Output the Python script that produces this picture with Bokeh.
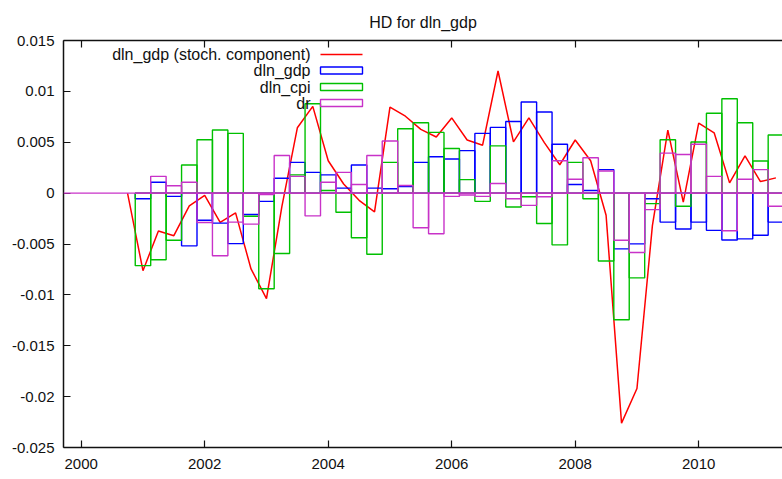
from bokeh.plotting import figure
from bokeh.models import Range1d, FixedTicker, CustomJSTickFormatter, LinearAxis, Span
from bokeh.embed import file_html
from bokeh.resources import INLINE
from bokeh.core.properties import value

# ---------------- data ----------------
title = "HD for dln_gdp"
series_names = ["dln_gdp (stoch. component)", "dln_gdp", "dln_cpi", "dr"]

quarters = [2001.0, 2001.25, 2001.5, 2001.75, 2002.0, 2002.25, 2002.5, 2002.75,
            2003.0, 2003.25, 2003.5, 2003.75, 2004.0, 2004.25, 2004.5, 2004.75,
            2005.0, 2005.25, 2005.5, 2005.75, 2006.0, 2006.25, 2006.5, 2006.75,
            2007.0, 2007.25, 2007.5, 2007.75, 2008.0, 2008.25, 2008.5, 2008.75,
            2009.0, 2009.25, 2009.5, 2009.75, 2010.0, 2010.25, 2010.5, 2010.75,
            2011.0, 2011.25]

red_dates = [2000.75] + quarters
red_total = [0.0,
             -0.00762, -0.00373, -0.00418, -0.00126, -0.00022, -0.00288, -0.00194, -0.00745,
             -0.01037, -0.00130, 0.00642, 0.00853, 0.00318, 0.00090, -0.00071, -0.00185,
             0.00846, 0.00756, 0.00626, 0.00552, 0.00739, 0.00522, 0.00471, 0.01200,
             0.00503, 0.00739, 0.00496, 0.00279, 0.00522, 0.00318, -0.00217, -0.02260,
             -0.01920, -0.00320, 0.00620, -0.00088, 0.00688, 0.00593, 0.00101, 0.00367,
             0.00114, 0.00150]

blue_gdp = [-0.00055, 0.00107, -0.00032, -0.00518, -0.00266, -0.00295, -0.00496, -0.00210,
            -0.00081, 0.00146, 0.00302, 0.00204, 0.00179, 0.00049, 0.00276, 0.00049,
            0.00043, 0.00065, 0.00302, 0.00357, 0.00335, 0.00418, 0.00587, 0.00646,
            0.00704, 0.00895, 0.00798, 0.00480, 0.00085, 0.00026, 0.00231, -0.00548,
            -0.00499, -0.00055, -0.00285, -0.00353, -0.00285, -0.00366, -0.00460, -0.00450,
            -0.00414, -0.00285]

green_cpi = [-0.00713, -0.00655, -0.00463, 0.00276, 0.00525, 0.00620, 0.00587, -0.00227,
             -0.00940, -0.00593, 0.00179, 0.00879, 0.00026, -0.00188, -0.00438, -0.00600,
             0.00302, 0.00632, 0.00691, 0.00597, 0.00438, 0.00133, -0.00081, 0.00464,
             -0.00136, -0.00035, -0.00298, -0.00509, 0.00302, -0.00055, -0.00667, -0.01245,
             -0.00833, -0.00103, 0.00525, -0.00129, 0.00503, 0.00785, 0.00928, 0.00691,
             0.00315, 0.00571]

magenta_dr = [0.0, 0.00165, 0.00072, 0.00107, -0.00288, -0.00616, -0.00285, -0.00305,
              -0.00013, 0.00370, 0.00165, -0.00224, 0.00107, 0.00204, 0.00085, 0.00370,
              0.00513, 0.00075, -0.00340, -0.00399, -0.00032, -0.00019, -0.00032, 0.00094,
              -0.00055, -0.00120, -0.00035, 0.00318, 0.00136, 0.00347, 0.00218, -0.00463,
              -0.00584, -0.00162, 0.00393, 0.00379, 0.00480, 0.00165, -0.00370, 0.00136,
              0.00231, -0.00129]

x_ticks = [2000, 2002, 2004, 2006, 2008, 2010]
y_ticks = [-0.025, -0.02, -0.015, -0.01, -0.005, 0.0, 0.005, 0.01, 0.015]

# ---------------- style / layout ----------------
W, H = 782, 479
FL, FT, FB, FR = 63, 40, 32, 0
x0, x1 = 1999.713, 2011.357
y0, y1 = -0.025, 0.015
bar_w = 0.25

RED = "#ff0000"
BLUE = "#0000ff"
GREEN = "#00c000"
MAGENTA = "#c832c8"
FONT = "Liberation Sans"
FS = "15px"
LEG_FS = "16px"


def px2x(px):
    return x0 + (px - FL) / (W - FL - FR) * (x1 - x0)


def py2y(py):
    return y1 - (py - FT) / (H - FT - FB) * (y1 - y0)


p = figure(width=W, height=H, output_backend="svg", toolbar_location=None,
           x_range=Range1d(x0, x1), y_range=Range1d(y0, y1),
           min_border_left=FL, min_border_top=FT, min_border_bottom=FB,
           min_border_right=FR, title=title)
p.outline_line_color = None
p.xgrid.visible = False
p.ygrid.visible = False
p.background_fill_color = "white"
p.border_fill_color = "white"

p.title.align = "center"
p.title.text_font = FONT
p.title.text_font_size = "16px"
p.title.text_font_style = "normal"
p.title.text_color = "#111111"
p.title.standoff = 20

bottom_axis = p.below[0]
left_axis = p.left[0]

bottom_axis.ticker = FixedTicker(ticks=x_ticks)
bottom_axis.formatter = CustomJSTickFormatter(code="return tick.toFixed(0);")
left_axis.ticker = FixedTicker(ticks=y_ticks)
left_axis.formatter = CustomJSTickFormatter(code="return String(Math.round(tick*1000)/1000);")

top_axis = LinearAxis(ticker=FixedTicker(ticks=x_ticks))
p.add_layout(top_axis, "above")

for ax in [bottom_axis, left_axis, top_axis]:
    ax.axis_line_color = "#111111"
    ax.axis_line_width = 1.5
    ax.major_tick_line_color = "#111111"
    ax.major_tick_line_width = 1.2
    ax.major_tick_in = 7
    ax.major_tick_out = 0
    ax.minor_tick_line_color = None
    ax.major_label_text_font = FONT
    ax.major_label_text_font_size = FS
    ax.major_label_text_color = "#111111"

bottom_axis.major_label_standoff = 11
left_axis.major_label_standoff = 9
top_axis.major_label_text_alpha = 0.0
top_axis.major_label_text_font_size = "1px"
top_axis.major_label_standoff = 0

# ---------------- marks ----------------
lefts = [q - bar_w / 2 for q in quarters]
rights = [q + bar_w / 2 for q in quarters]
zeros = [0.0] * len(quarters)

p.line(red_dates, red_total, line_color=RED, line_width=1.5)
for vals, col in [(blue_gdp, BLUE), (green_cpi, GREEN), (magenta_dr, MAGENTA)]:
    p.quad(left=lefts, right=rights, bottom=zeros, top=vals,
           fill_color=None, line_color=col, line_width=1.4)

p.add_layout(Span(location=0, dimension="width", line_color=MAGENTA, line_width=1.4))

# ---------------- legend (gnuplot style: text then sample) ----------------
leg_rows_px = [54, 70, 86.5, 102.5]
leg_text_px = 310
leg_s0, leg_s1 = 320, 362
leg_box_h = 7
p.text(x=[px2x(leg_text_px)] * 4, y=[py2y(r) for r in leg_rows_px], text=series_names,
       text_align="right", text_baseline="middle", text_font=value(FONT),
       text_font_size=LEG_FS, text_color="#111111")
p.line([px2x(leg_s0), px2x(leg_s1)], [py2y(leg_rows_px[0])] * 2, line_color=RED, line_width=1.5)
for r, col in zip(leg_rows_px[1:], [BLUE, GREEN, MAGENTA]):
    p.quad(left=[px2x(leg_s0)], right=[px2x(leg_s1)],
           bottom=[py2y(r + leg_box_h / 2)], top=[py2y(r - leg_box_h / 2)],
           fill_color=None, line_color=col, line_width=1.4)

open("out.html", "w").write(file_html(p, INLINE))
